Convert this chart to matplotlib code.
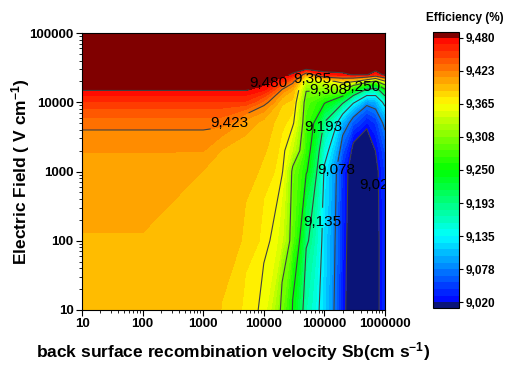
import numpy as np
import matplotlib
matplotlib.use("Agg")
import matplotlib.pyplot as plt
from matplotlib.colors import LinearSegmentedColormap
from matplotlib.ticker import FixedLocator, FixedFormatter, LogLocator, NullFormatter

plt.rcParams['font.family'] = ['Liberation Sans', 'DejaVu Sans']
plt.rcParams['mathtext.fontset'] = 'custom'
plt.rcParams['mathtext.bf'] = 'Liberation Sans:bold'
plt.rcParams['mathtext.rm'] = 'Liberation Sans'
plt.rcParams['mathtext.default'] = 'bf'

# ---------------- data ----------------
sb = [10, 100, 1000, 2000, 5000, 1e4, 2e4, 3e4, 5e4, 1e5, 2e5, 3e5, 5e5, 7e5, 1e6]
field = [10, 100, 1000, 2000, 5000, 1e4, 1.5e4, 2e4, 2.5e4, 3e4, 1e5]

eff_E10     = [9.395, 9.395, 9.393, 9.3878, 9.373, 9.36, 9.30, 9.248, 9.17, 9.115, 9.03, 8.99, 8.98, 9.01, 9.04]
eff_E100    = [9.3992, 9.3992, 9.396, 9.394, 9.386, 9.372, 9.345, 9.29, 9.20, 9.12, 9.035, 8.99, 8.98, 9.01, 9.04]
eff_E1000   = [9.408, 9.408, 9.399, 9.396, 9.393, 9.385, 9.368, 9.30, 9.255, 9.13, 9.04, 8.995, 8.985, 9.012, 9.045]
eff_E2000   = [9.4115, 9.4115, 9.4115, 9.399, 9.395, 9.39, 9.372, 9.34, 9.27, 9.15, 9.06, 9.01, 8.995, 9.021, 9.055]
eff_E5000   = [9.4282, 9.4282, 9.4282, 9.4282, 9.405, 9.395, 9.38, 9.37, 9.28, 9.19, 9.10, 9.06, 9.03, 9.045, 9.09]
eff_E10000  = [9.455, 9.455, 9.455, 9.455, 9.455, 9.43, 9.39, 9.385, 9.29, 9.255, 9.20, 9.14, 9.09, 9.10, 9.15]
eff_E15000  = [9.481, 9.481, 9.481, 9.481, 9.481, 9.47, 9.42, 9.40, 9.31, 9.31, 9.31, 9.245, 9.18, 9.17, 9.24]
eff_E20000  = [9.495, 9.495, 9.495, 9.495, 9.495, 9.49, 9.46, 9.43, 9.34, 9.35, 9.38, 9.37, 9.33, 9.30, 9.36]
eff_E25000  = [9.50, 9.50, 9.50, 9.50, 9.50, 9.50, 9.49, 9.475, 9.40, 9.47, 9.475, 9.482, 9.482, 9.46, 9.49]
eff_E30000  = [9.505, 9.505, 9.505, 9.505, 9.505, 9.505, 9.50, 9.495, 9.482, 9.49, 9.49, 9.49, 9.49, 9.49, 9.495]
eff_E100000 = [9.52, 9.52, 9.52, 9.52, 9.52, 9.52, 9.52, 9.52, 9.52, 9.52, 9.52, 9.52, 9.52, 9.52, 9.52]

cbar_ticks = [9.02, 9.0775, 9.135, 9.1925, 9.25, 9.3075, 9.365, 9.4225, 9.48]
cbar_ticklabels = ["9,020", "9,078", "9,135", "9,193", "9,250", "9,308", "9,365", "9,423", "9,480"]
x_ticks = [10, 100, 1000, 10000, 100000, 1000000]
x_ticklabels = ["10", "100", "1000", "10000", "100000", "1000000"]
y_ticks = [10, 100, 1000, 10000, 100000]
y_ticklabels = ["10", "100", "1000", "10000", "100000"]

Z = np.array([eff_E10, eff_E100, eff_E1000, eff_E2000, eff_E5000, eff_E10000,
              eff_E15000, eff_E20000, eff_E25000, eff_E30000, eff_E100000])
X, Y = np.meshgrid(np.array(sb), np.array(field))

# ---------------- style ----------------
cmap = LinearSegmentedColormap.from_list(
    "origin_rainbow",
    [(0.0, "#0000ff"), (0.25, "#00ffff"), (0.5, "#00ff00"),
     (0.75, "#ffff00"), (1.0, "#ff0000")])
cmap.set_under("#0a1478")
cmap.set_over("#800000")
band_levels = np.linspace(cbar_ticks[0], cbar_ticks[-1], 41)

fig = plt.figure(figsize=(5.05, 3.66), dpi=100)
ax = fig.add_axes([82/505, 1-310/366, 303/505, 277/366])

cf = ax.contourf(X, Y, Z, levels=band_levels, cmap=cmap, extend="both",
                 vmin=cbar_ticks[0], vmax=cbar_ticks[-1])

ax.set_xscale("log")
ax.set_yscale("log")
ax.set_xlim(sb[0], sb[-1])
ax.set_ylim(field[0], field[-1])

# contour lines, one set per labelled level: (level index, label position, inline spacing)
label_specs = [
    (8, (13500, 15800), 2),
    (7, (3100, 3800), 2),
    (6, (63000, 22400), 1),
    (5, (118000, 14400), 1),
    (4, (415000, 15500), 1),
    (3, (85000, 4400), -12),
    (2, (79000, 187), -12),
    (1, (155000, 1050), -12),
    (0, (830000, 630), -12),
]
texts = []
for idx, pos, spacing in label_specs:
    lv = cbar_ticks[idx]
    cs = ax.contour(X, Y, Z, levels=[lv], colors="#404040", linewidths=0.8)
    ax.clabel(cs, fmt={lv: cbar_ticklabels[idx]}, fontsize=11,
              inline=True, inline_spacing=spacing, manual=[pos],
              colors="black")
    texts.extend(cs.labelTexts)
for t in texts:
    t.set_rotation(0)
    t.set_fontweight("normal")
    t.set_clip_path(ax.patch)

ax.xaxis.set_major_locator(FixedLocator(x_ticks))
ax.xaxis.set_major_formatter(FixedFormatter(x_ticklabels))
ax.yaxis.set_major_locator(FixedLocator(y_ticks))
ax.yaxis.set_major_formatter(FixedFormatter(y_ticklabels))
ax.xaxis.set_minor_locator(LogLocator(base=10, subs=np.arange(2, 10)))
ax.yaxis.set_minor_locator(LogLocator(base=10, subs=np.arange(2, 10)))
ax.xaxis.set_minor_formatter(NullFormatter())
ax.yaxis.set_minor_formatter(NullFormatter())
ax.tick_params(which="major", direction="out", length=4, width=0.8,
               labelsize=9.5, pad=2)
ax.tick_params(which="minor", direction="out", length=2, width=0.6)
for lab in ax.get_xticklabels() + ax.get_yticklabels():
    lab.set_fontweight("bold")
for sp in ax.spines.values():
    sp.set_linewidth(0.8)

ax.set_xlabel(r"back surface recombination velocity Sb(cm s$^{-1}$)",
              fontsize=12.5, fontweight="bold", labelpad=7)
ax.set_ylabel(r"Electric Field ( V cm$^{-1}$)", fontsize=12.5,
              fontweight="bold", labelpad=-2)

cax = fig.add_axes([433/505, 1-308/366, 26/505, 276/366])
cb = fig.colorbar(cf, cax=cax, extendrect=True, extendfrac=0.022)
cb.set_ticks(cbar_ticks)
cb.set_ticklabels(cbar_ticklabels)
cb.ax.tick_params(labelsize=8.5, length=3, width=0.8, direction="out", pad=2)
cb.ax.minorticks_off()
for lab in cb.ax.get_yticklabels():
    lab.set_fontweight("bold")
cb.outline.set_linewidth(0.8)
fig.text(465/505, 1-18/366, "Efficiency (%)", fontsize=8.5, fontweight="bold",
         ha="center", va="center")

fig.savefig("out.png", dpi=100)
